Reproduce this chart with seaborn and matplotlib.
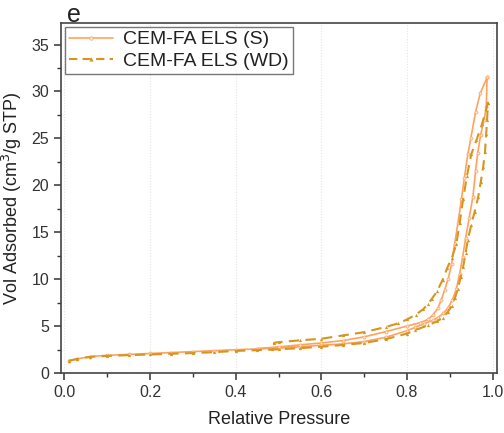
import numpy as np
import pandas as pd
import matplotlib
matplotlib.use("Agg")
import matplotlib.pyplot as plt
import seaborn as sns
from matplotlib.ticker import MultipleLocator
from matplotlib.lines import Line2D

# ---- data ----
s_ads_x = [0.01, 0.03, 0.06, 0.10, 0.15, 0.20, 0.25, 0.30, 0.35, 0.40, 0.45, 0.50, 0.55, 0.60, 0.65,
           0.70, 0.75, 0.80, 0.818, 0.84, 0.86, 0.872, 0.885, 0.896, 0.906, 0.915, 0.923, 0.930, 0.937,
           0.945, 0.954, 0.960, 0.965, 0.972, 0.980, 0.985, 0.987]
s_ads_y = [1.30, 1.50, 1.75, 1.88, 1.98, 2.08, 2.18, 2.28, 2.38, 2.48, 2.56, 2.65, 2.80, 2.95, 3.10,
           3.35, 3.80, 4.50, 4.85, 5.25, 5.60, 5.90, 6.35, 6.95, 7.80, 8.90, 10.6, 12.4, 14.4,
           16.5, 18.8, 21.5, 23.4, 25.4, 27.0, 28.3, 31.5]
s_des_x = [0.987, 0.971, 0.960, 0.949, 0.942, 0.934, 0.927, 0.919, 0.911, 0.904, 0.896, 0.888, 0.880,
           0.872, 0.860, 0.849, 0.830, 0.80, 0.75, 0.70, 0.65, 0.60, 0.55, 0.50, 0.45]
s_des_y = [31.5, 29.8, 27.8, 25.0, 23.3, 20.8, 18.5, 16.0, 13.7, 11.6, 10.0, 8.86, 7.80,
           6.90, 6.15, 5.70, 5.35, 5.00, 4.40, 3.85, 3.45, 3.20, 3.00, 2.78, 2.60]

wd_ads_x = [0.01, 0.03, 0.06, 0.10, 0.15, 0.20, 0.25, 0.30, 0.35, 0.40, 0.45, 0.50, 0.55, 0.60, 0.65,
            0.70, 0.75, 0.80, 0.818, 0.85, 0.870, 0.884, 0.895, 0.904, 0.912, 0.919, 0.925, 0.931,
            0.937, 0.942, 0.950, 0.958, 0.966, 0.972, 0.978, 0.982, 0.985, 0.987, 0.989]
wd_ads_y = [1.30, 1.50, 1.72, 1.82, 1.90, 1.97, 2.05, 2.12, 2.22, 2.35, 2.43, 2.52, 2.65, 2.80, 2.98,
            3.20, 3.60, 4.20, 4.55, 5.10, 5.50, 5.90, 6.50, 7.10, 8.00, 9.00, 10.2, 11.3,
            12.8, 14.2, 15.8, 17.2, 18.7, 20.3, 22.0, 23.5, 25.5, 27.0, 28.8]
wd_des_x = [0.989, 0.975, 0.962, 0.950, 0.940, 0.931, 0.923, 0.915, 0.905, 0.894, 0.883, 0.870, 0.858,
            0.848, 0.838, 0.82, 0.80, 0.78, 0.75, 0.70, 0.65, 0.60, 0.55, 0.50, 0.49, 0.485]
wd_des_y = [28.8, 26.5, 24.8, 23.3, 21.0, 18.5, 16.0, 13.7, 12.3, 11.2, 9.90, 8.70, 7.90,
            7.30, 6.80, 6.20, 5.70, 5.30, 4.90, 4.35, 4.00, 3.65, 3.48, 3.28, 3.22, 2.55]

labels = ["CEM-FA ELS (S)", "CEM-FA ELS (WD)"]
xticks = [0.0, 0.2, 0.4, 0.6, 0.8, 1.0]
yticks = [0, 5, 10, 15, 20, 25, 30, 35]

c_s = "#FFA25E"
c_wd = "#D6951F"

sns.set_theme(style="white")
plt.rcParams["font.family"] = ["Liberation Sans", "DejaVu Sans"]

fig = plt.figure(figsize=(5.04, 4.33), dpi=100)
ax = fig.add_axes([0.121, 0.1386, 0.865, 0.8084])

df_s = pd.DataFrame({"p": s_ads_x + s_des_x, "v": s_ads_y + s_des_y})
df_wd = pd.DataFrame({"p": wd_ads_x + wd_des_x, "v": wd_ads_y + wd_des_y})

sns.lineplot(data=df_s, x="p", y="v", sort=False, estimator=None, ax=ax, color=c_s,
             lw=1.2, marker="o", markersize=2.2, markerfacecolor="#FFE3CC",
             markeredgecolor=c_s, markeredgewidth=0.5)
sns.lineplot(data=df_wd, x="p", y="v", sort=False, estimator=None, ax=ax, color=c_wd,
             lw=1.5, linestyle=(0, (5, 3)), marker="^", markersize=2.3,
             markeredgewidth=0, markerfacecolor=c_wd)

ax.set_xlim(-0.008, 1.01)
ax.set_ylim(0, 37.3)
ax.set_xticks(xticks)
ax.set_yticks(yticks)
ax.set_xticklabels([f"{t:.1f}" for t in xticks])
ax.xaxis.set_minor_locator(MultipleLocator(0.1))
ax.yaxis.set_minor_locator(MultipleLocator(2.5))
ax.tick_params(axis="both", which="major", direction="out", length=5, width=1.1,
               color="#333333", labelsize=11.5, labelcolor="#333333", bottom=True, left=True)
ax.tick_params(axis="both", which="minor", direction="out", length=3, width=1.0,
               color="#333333", bottom=True, left=True)
ax.xaxis.grid(True, which="major", color="#e4e4e4", linestyle=(0, (1, 1.5)), lw=0.8)
ax.yaxis.grid(False)
for sp in ax.spines.values():
    sp.set_color("#444444")
    sp.set_linewidth(1.2)

ax.set_xlabel("Relative Pressure", fontsize=13, color="#222222", labelpad=8)
ax.set_ylabel("Vol Adsorbed (cm$^3$/g STP)", fontsize=13, color="#222222", labelpad=5)
fig.text(0.133, 0.965, "e", fontsize=18, color="#222222", va="center", ha="left")

handles = [
    Line2D([], [], color=c_s, lw=1.2, marker="o", markersize=2.5, markerfacecolor="#FFE3CC",
           markeredgecolor=c_s, markeredgewidth=0.5),
    Line2D([], [], color=c_wd, lw=1.5, linestyle=(0, (4, 2.5)), marker="^", markersize=3,
           markeredgewidth=0),
]
leg = ax.legend(handles, labels, loc="upper left", fontsize=14, frameon=True, fancybox=False,
                edgecolor="#555555", borderpad=0.2, handlelength=2.3, handletextpad=0.5,
                labelspacing=0.2, borderaxespad=0.2)
leg.get_frame().set_linewidth(1.0)
for t in leg.get_texts():
    t.set_color("#222222")

fig.savefig("out.png", dpi=100)
